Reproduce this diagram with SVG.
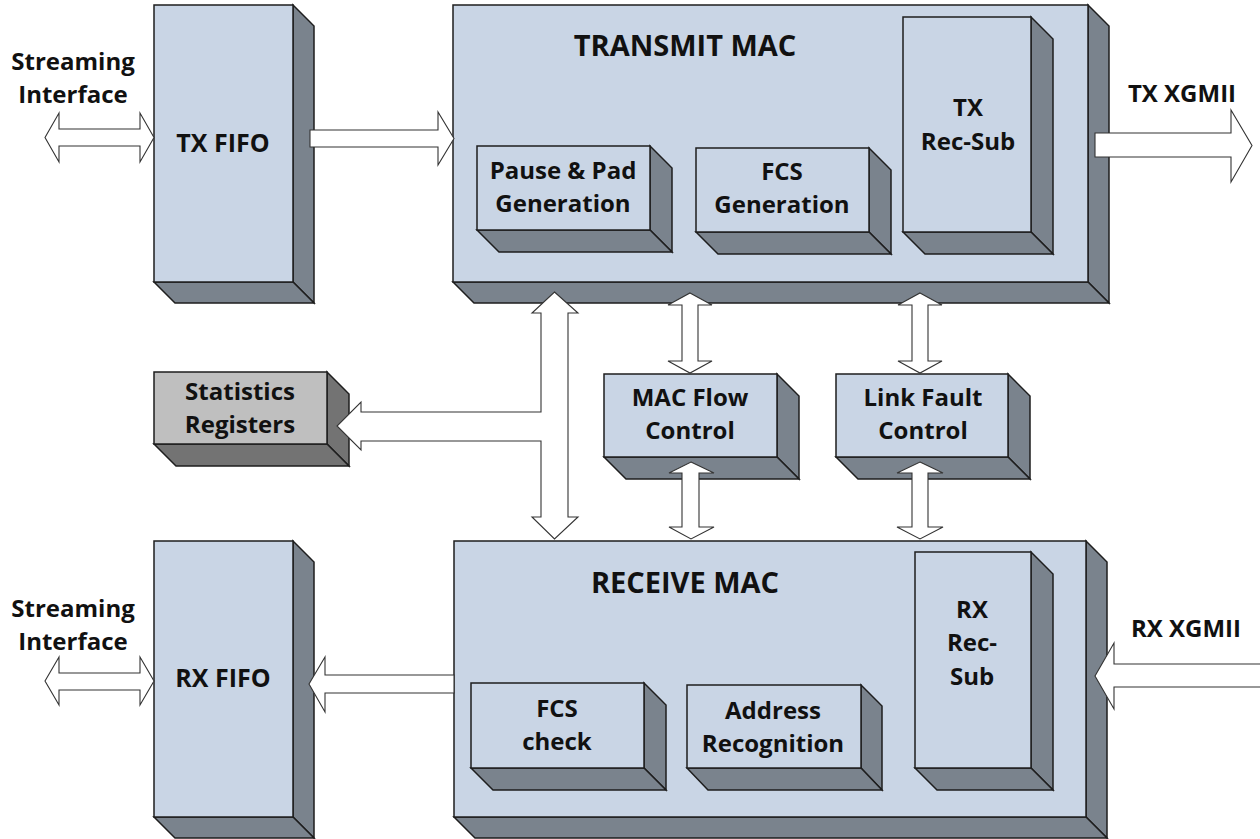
<svg xmlns="http://www.w3.org/2000/svg" width="1260" height="839" viewBox="0 0 1260 839">
  <style>
    .front { fill: #c9d5e5; stroke: #1e1e1e; stroke-width: 1.5; stroke-linejoin: miter; }
    .side { fill: #7a838d; stroke: #1e1e1e; stroke-width: 1.5; stroke-linejoin: miter; }
    .front-g { fill: #bfbfbf; stroke: #1e1e1e; stroke-width: 1.5; }
    .side-g { fill: #737373; stroke: #1e1e1e; stroke-width: 1.5; }
    .arrow { fill: #ffffff; stroke: #333333; stroke-width: 1.1; stroke-linejoin: miter; }
    text { font-family: "Open Sans", "Noto Sans", "Liberation Sans", sans-serif; font-weight: bold; fill: #111111; text-anchor: middle; font-size: 24px; }
    .title { font-size: 29px; }
    .fifo { font-size: 25px; }
  </style>

  <rect width="1260" height="839" fill="#ffffff"/>

  <!-- Free-standing labels -->
  <g id="labels">
    <text x="73" y="70">Streaming</text>
    <text x="73" y="103">Interface</text>
    <text x="73" y="617">Streaming</text>
    <text x="73" y="650">Interface</text>
    <text x="1182" y="102">TX XGMII</text>
    <text x="1186" y="637">RX XGMII</text>
  </g>

  <!-- TX FIFO -->
  <g id="tx-fifo">
    <polygon class="side" points="293,5 314,26 314,303 293,282"/>
    <polygon class="side" points="154,282 293,282 314,303 175,303"/>
    <rect class="front" x="154" y="5" width="139" height="277"/>
    <text class="fifo" x="223" y="152">TX FIFO</text>
  </g>

  <!-- TRANSMIT MAC -->
  <g id="transmit-mac">
    <polygon class="side" points="1088,5 1109,26 1109,303 1088,282"/>
    <polygon class="side" points="453,282 1088,282 1109,303 474,303"/>
    <rect class="front" x="453" y="5" width="635" height="277"/>
    <text class="title" x="685" y="56">TRANSMIT MAC</text>
  </g>

  <g id="pause-pad-generation">
    <polygon class="side" points="650,146 672,168 672,252 650,230"/>
    <polygon class="side" points="477,230 650,230 672,252 499,252"/>
    <rect class="front" x="477" y="146" width="173" height="84"/>
    <text x="563" y="179">Pause &amp; Pad</text>
    <text x="563" y="212">Generation</text>
  </g>

  <g id="fcs-generation">
    <polygon class="side" points="869,148 891,170 891,254 869,232"/>
    <polygon class="side" points="696,232 869,232 891,254 718,254"/>
    <rect class="front" x="696" y="148" width="173" height="84"/>
    <text x="782" y="180">FCS</text>
    <text x="782" y="213">Generation</text>
  </g>

  <g id="tx-rec-sub">
    <polygon class="side" points="1031,17 1053,39 1053,254 1031,232"/>
    <polygon class="side" points="903,232 1031,232 1053,254 925,254"/>
    <rect class="front" x="903" y="17" width="128" height="215"/>
    <text x="968" y="116">TX</text>
    <text x="968" y="150">Rec-Sub</text>
  </g>

  <!-- Statistics Registers -->
  <g id="statistics-registers">
    <polygon class="side-g" points="327,372 349,394 349,466 327,444"/>
    <polygon class="side-g" points="154,444 327,444 349,466 176,466"/>
    <rect class="front-g" x="154" y="372" width="173" height="72"/>
    <text x="240" y="400">Statistics</text>
    <text x="240" y="433">Registers</text>
  </g>

  <g id="mac-flow-control">
    <polygon class="side" points="777,374 799,396 799,479 777,457"/>
    <polygon class="side" points="604,457 777,457 799,479 626,479"/>
    <rect class="front" x="604" y="374" width="173" height="83"/>
    <text x="690" y="406">MAC Flow</text>
    <text x="690" y="439">Control</text>
  </g>

  <g id="link-fault-control">
    <polygon class="side" points="1008,374 1030,396 1030,479 1008,457"/>
    <polygon class="side" points="836,457 1008,457 1030,479 858,479"/>
    <rect class="front" x="836" y="374" width="172" height="83"/>
    <text x="923" y="406">Link Fault</text>
    <text x="923" y="439">Control</text>
  </g>

  <!-- RX FIFO -->
  <g id="rx-fifo">
    <polygon class="side" points="293,541 314,562 314,838 293,817"/>
    <polygon class="side" points="154,817 293,817 314,838 175,838"/>
    <rect class="front" x="154" y="541" width="139" height="276"/>
    <text class="fifo" x="223" y="687">RX FIFO</text>
  </g>

  <!-- RECEIVE MAC -->
  <g id="receive-mac">
    <polygon class="side" points="1086,541 1107,562 1107,838 1086,817"/>
    <polygon class="side" points="454,817 1086,817 1107,838 475,838"/>
    <rect class="front" x="454" y="541" width="632" height="276"/>
    <text class="title" x="685" y="593">RECEIVE MAC</text>
  </g>

  <g id="fcs-check">
    <polygon class="side" points="644,683 666,705 666,790 644,768"/>
    <polygon class="side" points="471,768 644,768 666,790 493,790"/>
    <rect class="front" x="471" y="683" width="173" height="85"/>
    <text x="557" y="717">FCS</text>
    <text x="557" y="750">check</text>
  </g>

  <g id="address-recognition">
    <polygon class="side" points="861,685 882,706 882,790 861,768"/>
    <polygon class="side" points="687,768 861,768 882,790 708,790"/>
    <rect class="front" x="687" y="685" width="174" height="83"/>
    <text x="773" y="719">Address</text>
    <text x="773" y="752">Recognition</text>
  </g>

  <g id="rx-rec-sub">
    <polygon class="side" points="1031,552 1053,574 1053,790 1031,768"/>
    <polygon class="side" points="915,768 1031,768 1053,790 937,790"/>
    <rect class="front" x="915" y="552" width="116" height="216"/>
    <text x="972" y="618">RX</text>
    <text x="972" y="651">Rec-</text>
    <text x="972" y="685">Sub</text>
  </g>

  <!-- Block arrows between the blocks -->
  <g id="connectors">
    <!-- streaming interface, transmit side -->
    <path class="arrow" d="M45,137.5 L59,113 L59,129 L140,129 L140,113 L154,137.5 L140,162 L140,146 L59,146 L59,162 Z"/>
    <!-- streaming interface, receive side -->
    <path class="arrow" d="M45,681 L59,657 L59,673 L140,673 L140,657 L154,681 L140,705 L140,690 L59,690 L59,705 Z"/>
    <!-- TX FIFO to TRANSMIT MAC -->
    <path class="arrow" d="M310,130 L438,130 L438,112 L454,138.5 L438,165 L438,147 L310,147 Z"/>
    <!-- TX XGMII out -->
    <path class="arrow" d="M1095,133 L1231,133 L1231,110 L1252,145.5 L1231,182 L1231,157 L1095,157 Z"/>
    <!-- RX XGMII in -->
    <path class="arrow" d="M1262,664 L1114,664 L1114,643 L1095,676 L1114,709 L1114,687 L1262,687 Z"/>
    <!-- RECEIVE MAC to RX FIFO -->
    <path class="arrow" d="M454,675 L325,675 L325,657 L309,684 L325,712 L325,693 L454,693 Z"/>
    <!-- shared bus between the MACs with branch to statistics -->
    <path class="arrow" d="M554.5,292 L578,313 L568,313 L568,517 L578,517 L554.5,539 L532,517 L541,517 L541,441 L361,441 L361,450 L337,426 L361,402 L361,412 L541,412 L541,313 L532,313 Z"/>
    <!-- MAC flow control links -->
    <path class="arrow" d="M690,293 L712,305 L698,305 L698,361 L712,361 L690,373 L668,361 L682,361 L682,305 L668,305 Z"/>
    <path class="arrow" d="M691,462 L714,473 L699,473 L699,527 L714,527 L691,539 L669,527 L682,527 L682,473 L669,473 Z"/>
    <!-- link fault control links -->
    <path class="arrow" d="M920,293 L942,305 L928,305 L928,361 L942,361 L920,373 L898,361 L912,361 L912,305 L898,305 Z"/>
    <path class="arrow" d="M920,462 L943,473 L928,473 L928,527 L943,527 L920,539 L897,527 L912,527 L912,473 L897,473 Z"/>
  </g>
</svg>
